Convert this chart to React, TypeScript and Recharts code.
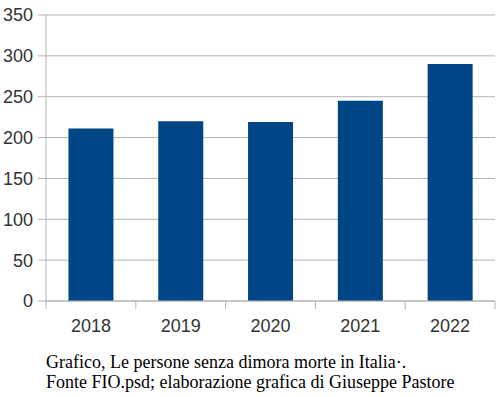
import { Bar, BarChart, CartesianGrid, XAxis, YAxis } from "recharts";

const years = ["2018", "2019", "2020", "2021", "2022"];
const deaths = [211, 220, 219, 245, 290];
const yTicks = [0, 50, 100, 150, 200, 250, 300, 350];

const captionLines = [
	"Grafico, Le persone senza dimora morte in Italia·.",
	"Fonte FIO.psd; elaborazione grafica di Giuseppe Pastore",
];

const data = years.map((year, i) => ({ year, value: deaths[i] }));

const GRID = "#b3b3b3";
const TEXT = "#333333";

// draws the label plus the tick marks on category boundaries (like LibreOffice)
const YearTick = ({ x, y, payload, index, width, visibleTicksCount }: any) => {
	const band = width / visibleTicksCount;
	const axisY = y - 18;
	return (
		<g>
			<line x1={x - band / 2} x2={x - band / 2} y1={axisY} y2={axisY + 8} stroke={GRID} />
			{index === visibleTicksCount - 1 && (
				<line x1={x + band / 2} x2={x + band / 2} y1={axisY} y2={axisY + 8} stroke={GRID} />
			)}
			<text x={x} y={y + 13} textAnchor="middle" fill={TEXT} fontSize={18} fontFamily="Liberation Sans">
				{payload.value}
			</text>
		</g>
	);
};

const App = () => {
	return (
		<div style={{ position: "absolute", left: 0, top: 0, width: 500, height: 397, background: "#fff" }}>
			<BarChart width={500} height={340} data={data} margin={{ top: 15, right: 5, bottom: 0, left: 0 }} barCategoryGap="25%">
				<CartesianGrid vertical={false} stroke={GRID} />
				<XAxis
					dataKey="year"
					height={39}
					stroke={GRID}
					tickLine={false}
					tickSize={8}
					tickMargin={10}
					tick={<YearTick />}
					interval={0}
				/>
				<YAxis
					domain={[0, 350]}
					ticks={yTicks}
					width={46}
					stroke={GRID}
					tickSize={8}
					tickMargin={5}
					tick={{ fill: TEXT, fontSize: 18, fontFamily: "Liberation Sans" }}
					interval={0}
				/>
				<YAxis yAxisId="right" orientation="right" width={0} stroke={GRID} tick={false} tickLine={false} domain={[0, 350]} />
				<Bar dataKey="value" fill="#004586" isAnimationActive={false} />
			</BarChart>
			<div
				style={{
					position: "absolute",
					left: 46,
					top: 352,
					fontFamily: "Liberation Serif",
					fontSize: 18,
					lineHeight: "20px",
					color: "#000",
					whiteSpace: "nowrap",
				}}
			>
				{captionLines.map((l) => (
					<div key={l}>{l}</div>
				))}
			</div>
		</div>
	);
};

export default App;
